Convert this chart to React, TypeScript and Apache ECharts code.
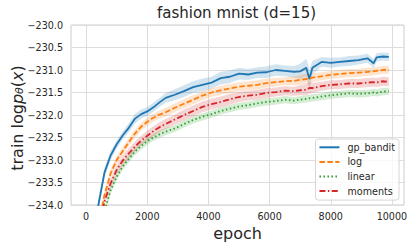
import React, { useEffect, useRef } from "react";
import * as echarts from "echarts";

const epochs = [200, 400, 600, 800, 1000, 1200, 1400, 1600, 1800, 2000, 2200, 2400, 2600, 2900, 3200, 3500, 3800, 4100, 4400, 4700, 5000, 5300, 5600, 5900, 6200, 6500, 6800, 7000, 7200, 7300, 7400, 7700, 8000, 8300, 8600, 8900, 9200, 9400, 9500, 9700, 9900];

const gpBandit = [-235.2, -234.0, -233.28, -232.9, -232.65, -232.45, -232.28, -232.08, -231.98, -231.92, -231.83, -231.72, -231.62, -231.55, -231.47, -231.38, -231.33, -231.28, -231.18, -231.15, -231.08, -231.1, -231.06, -231.05, -231.0, -231.02, -231.04, -231.03, -230.95, -231.2, -230.95, -230.82, -230.84, -230.82, -230.8, -230.78, -230.74, -230.85, -230.72, -230.7, -230.71];
const logMean = [-235.6, -234.45, -233.78, -233.3, -233.0, -232.8, -232.6, -232.41, -232.26, -232.15, -232.06, -231.99, -231.94, -231.84, -231.75, -231.66, -231.57, -231.5, -231.45, -231.41, -231.37, -231.35, -231.33, -231.29, -231.27, -231.25, -231.24, -231.22, -231.2, -231.19, -231.17, -231.14, -231.11, -231.09, -231.07, -231.06, -231.04, -231.03, -231.02, -231.0, -230.99];
const linearMean = [-236.5, -235.0, -234.15, -233.67, -233.37, -233.14, -232.97, -232.81, -232.69, -232.58, -232.5, -232.43, -232.37, -232.3, -232.2, -232.11, -232.04, -231.98, -231.91, -231.86, -231.81, -231.78, -231.74, -231.71, -231.69, -231.66, -231.68, -231.66, -231.64, -231.63, -231.62, -231.59, -231.56, -231.54, -231.52, -231.53, -231.52, -231.5, -231.51, -231.48, -231.47];
const momentsMean = [-236.0, -234.7, -233.92, -233.52, -233.22, -233.01, -232.85, -232.7, -232.57, -232.46, -232.36, -232.27, -232.2, -232.1, -232.0, -231.91, -231.82, -231.76, -231.71, -231.65, -231.6, -231.57, -231.55, -231.51, -231.49, -231.46, -231.47, -231.45, -231.44, -231.4, -231.4, -231.36, -231.33, -231.32, -231.3, -231.3, -231.28, -231.27, -231.28, -231.25, -231.26];

const gpSpread = [0.12, 0.12, 0.11, 0.1, 0.09, 0.09, 0.1, 0.11, 0.1, 0.1, 0.1, 0.1, 0.11, 0.12, 0.13, 0.13, 0.14, 0.13, 0.14, 0.14, 0.13, 0.12, 0.12, 0.13, 0.13, 0.12, 0.13, 0.17, 0.2, 0.22, 0.15, 0.11, 0.11, 0.1, 0.11, 0.1, 0.1, 0.1, 0.09, 0.09, 0.09];
const logSpread = [0.09, 0.09, 0.09, 0.09, 0.09, 0.09, 0.09, 0.09, 0.09, 0.09, 0.09, 0.09, 0.1, 0.1, 0.1, 0.1, 0.1, 0.1, 0.1, 0.1, 0.1, 0.1, 0.1, 0.1, 0.09, 0.09, 0.1, 0.11, 0.12, 0.12, 0.1, 0.09, 0.09, 0.09, 0.09, 0.09, 0.09, 0.09, 0.09, 0.09, 0.09];
const linearSpread = [0.08, 0.08, 0.08, 0.08, 0.08, 0.08, 0.08, 0.08, 0.08, 0.08, 0.08, 0.08, 0.08, 0.08, 0.08, 0.08, 0.08, 0.08, 0.08, 0.08, 0.08, 0.08, 0.08, 0.08, 0.08, 0.08, 0.08, 0.08, 0.08, 0.08, 0.08, 0.08, 0.08, 0.08, 0.08, 0.08, 0.08, 0.08, 0.08, 0.08, 0.08];
const momentsSpread = [0.1, 0.1, 0.1, 0.1, 0.11, 0.11, 0.11, 0.11, 0.11, 0.11, 0.11, 0.11, 0.11, 0.11, 0.12, 0.12, 0.12, 0.12, 0.12, 0.12, 0.11, 0.11, 0.11, 0.11, 0.1, 0.1, 0.1, 0.11, 0.12, 0.13, 0.11, 0.1, 0.1, 0.1, 0.1, 0.1, 0.1, 0.1, 0.1, 0.1, 0.1];

const xTicks = [0, 2000, 4000, 6000, 8000, 10000];
const seriesNames = ["gp_bandit", "log", "linear", "moments"];
const titleText = "fashion mnist (d=15)";
const xLabel = "epoch";

const FONT = "DejaVu Sans";
const TXT = "#262626";
const GRIDC = "#dddddd";

const lineDefs = [
  { name: seriesNames[0], mean: gpBandit, spread: gpSpread, color: "#1f77b4", type: "solid" as any },
  { name: seriesNames[1], mean: logMean, spread: logSpread, color: "#ff7f0e", type: [5.5, 2.4] },
  { name: seriesNames[2], mean: linearMean, spread: linearSpread, color: "#2ca02c", type: [1.5, 2.5] },
  { name: seriesNames[3], mean: momentsMean, spread: momentsSpread, color: "#d62728", type: [6, 2.4, 1.5, 2.4] },
];

export default function App() {
  const ref = useRef<HTMLDivElement>(null);
  useEffect(() => {
    if (!ref.current) return;
    const chart = echarts.init(ref.current, null, { renderer: "svg" });
    const series: any[] = [];
    lineDefs.forEach((d) => {
      const bandData = epochs.map((e, i) => [e, d.mean[i] - d.spread[i], d.mean[i] + d.spread[i]]);
      series.push({
        name: d.name + "_band",
        type: "custom",
        data: bandData,
        encode: { x: 0, y: [1, 2] },
        clip: true,
        silent: true,
        z: 1,
        renderItem: (params: any, api: any) => {
          if (params.dataIndex !== 0) return null;
          const top: number[][] = [];
          const bot: number[][] = [];
          for (let i = 0; i < bandData.length; i++) {
            top.push(api.coord([bandData[i][0], bandData[i][2]]));
            bot.push(api.coord([bandData[i][0], bandData[i][1]]));
          }
          const pts = top.concat(bot.reverse());
          return {
            type: "polygon",
            shape: { points: pts },
            style: { fill: d.color, opacity: 0.2 },
          };
        },
      });
    });
    lineDefs.forEach((d) => {
      series.push({
        name: d.name,
        type: "line",
        data: epochs.map((e, i) => [e, d.mean[i]]),
        symbol: "none",
        lineStyle: { color: d.color, width: 1.8, type: d.type },
        itemStyle: { color: d.color },
        z: 3,
      });
    });
    chart.setOption({
      animation: false,
      grid: {
        left: 71,
        right: 11,
        top: 25,
        bottom: 43,
        show: true,
        borderColor: "#cccccc",
        borderWidth: 1,
        backgroundColor: "#ffffff",
      },
      xAxis: {
        type: "value",
        min: -495,
        max: 10395,
        name: xLabel,
        nameLocation: "middle",
        nameGap: 17,
        nameTextStyle: { fontSize: 16, color: TXT, fontFamily: FONT },
        axisLine: { show: false },
        axisTick: { show: false, customValues: xTicks },
        axisLabel: {
          customValues: xTicks,
          fontSize: 9.6,
          color: TXT,
          fontFamily: FONT,
          margin: 6,
          formatter: (v: number) => String(v),
        },
        splitLine: { show: true, lineStyle: { color: GRIDC, width: 1 } },
      },
      yAxis: {
        type: "value",
        min: -234,
        max: -230,
        interval: 0.5,
        axisLine: { show: false },
        axisTick: { show: false },
        axisLabel: {
          fontSize: 9.6,
          color: TXT,
          fontFamily: FONT,
          margin: 8,
          formatter: (v: number) => (v < 0 ? "\u2212" : "") + Math.abs(v).toFixed(1),
        },
        splitLine: { show: true, lineStyle: { color: GRIDC, width: 1 } },
      },
      legend: {
        data: seriesNames,
        orient: "vertical",
        right: 16,
        top: 139,
        itemWidth: 20,
        itemHeight: 10,
        itemGap: 4.6,
        padding: [3.3, 4, 4, 3],
        backgroundColor: "rgba(255,255,255,0.8)",
        borderColor: "#d6d6d6",
        borderWidth: 1,
        borderRadius: 3,
        itemStyle: { opacity: 0 },
        textStyle: { fontSize: 9.6, color: TXT, fontFamily: FONT, padding: [0, 0, 0, 3] },
      },
      graphic: [
        {
          type: "text",
          x: 236.5,
          y: 5,
          style: {
            text: titleText,
            fontSize: 15,
            fontFamily: FONT,
            fill: TXT,
            align: "center",
            verticalAlign: "top",
          },
        },
        {
          type: "text",
          x: 15,
          y: 118,
          rotation: Math.PI / 2,
          style: {
            text: "{a|train log}{i|p}{s|θ}{a|(}{i|x}{a|)}",
            fontFamily: FONT,
            fill: TXT,
            align: "center",
            verticalAlign: "middle",
            rich: {
              a: { fontSize: 16, fontFamily: FONT, fill: TXT, lineHeight: 20, verticalAlign: "bottom" },
              i: { fontSize: 16, fontFamily: FONT, fontStyle: "italic", fill: TXT, lineHeight: 20, verticalAlign: "bottom" },
              s: { fontSize: 11, fontFamily: FONT, fontStyle: "italic", fill: TXT, lineHeight: 8, verticalAlign: "bottom" },
            },
          },
        },
      ],
      series,
    });
    return () => chart.dispose();
  }, []);
  return <div ref={ref} style={{ width: 415, height: 248, position: "absolute", left: 0, top: 0 }} />;
}
